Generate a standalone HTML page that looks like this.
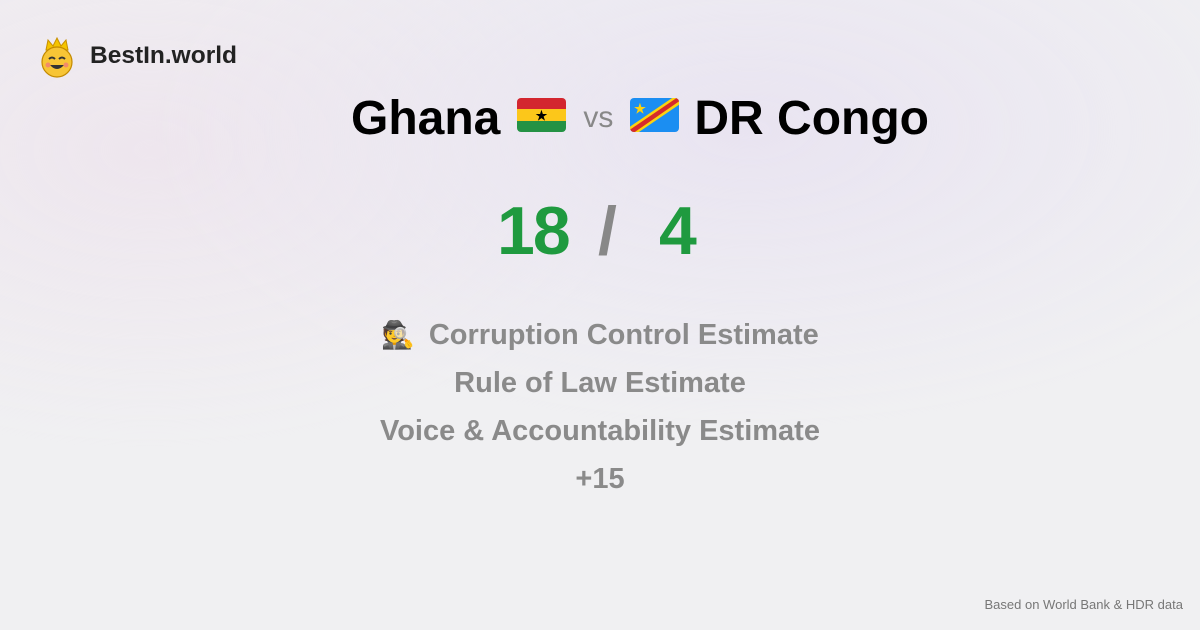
<!DOCTYPE html>
<html><head><meta charset="utf-8"><style>
html,body{margin:0;padding:0}
body{width:1200px;height:630px;overflow:hidden;position:relative;font-family:"Liberation Sans",sans-serif;
background:radial-gradient(ellipse 600px 300px at 750px 130px,#e9e4f1 0%,rgba(233,228,241,0) 100%),radial-gradient(ellipse 500px 300px at 150px 150px,#eee6ee 0%,rgba(238,230,238,0) 100%),#f0f0f2;}
.abs{position:absolute}
.brand{left:90px;top:42px;font-size:24.5px;font-weight:bold;color:#222}
.title{left:40px;width:1200px;top:88px;height:60px;display:flex;align-items:center;justify-content:center;font-weight:bold;font-size:48px;color:#000}
.flag{width:49px;height:34px;border-radius:4px;overflow:hidden;display:block;position:relative;margin-top:-6px}
.flag svg{display:block}
.vs{font-size:30px;color:#888;font-weight:normal;margin:0 17px}
.score{top:192px;font-size:68px;font-weight:bold;color:#1f9a3f;letter-spacing:-2px}
.line{left:0;width:1200px;text-align:center;font-size:29px;font-weight:bold;color:#8a8a8a}
.foot{right:17px;top:597px;font-size:13px;color:#777}
</style></head><body>
<div class="abs" style="left:38px;top:36px;width:38px;height:42px">
<svg width="38" height="42" viewBox="0 0 38 42"><path d="M8 14 L10 4 L15 10 L19 2 L23 10 L28 4 L30 14 Z" fill="#f5c400" stroke="#c89000" stroke-width="1"/><circle cx="19" cy="26" r="15" fill="#f7c536" stroke="#c38a00" stroke-width="1.2"/><path d="M11 23 q3-3 6 0 M21 23 q3-3 6 0" stroke="#333" stroke-width="2" fill="none"/><path d="M12 29 q7 8 14 0 Z" fill="#333"/><circle cx="10" cy="29" r="2.5" fill="#f28b6a"/><circle cx="28" cy="29" r="2.5" fill="#f28b6a"/></svg></div>
<div class="abs brand">BestIn.world</div>
<div class="abs title">
<span>Ghana</span>
<span class="flag" style="margin-left:17px"><svg width="49" height="34"><rect width="49" height="12" fill="#d3262f"/><rect y="11" width="49" height="12" fill="#fcc71a"/><rect y="23" width="49" height="11" fill="#249244"/><text x="24.5" y="22" font-size="13" text-anchor="middle" fill="#000">★</text></svg></span>
<span class="vs">vs</span>
<span class="flag"><svg width="49" height="34"><rect width="49" height="34" fill="#1b8ef2"/><path d="M-2 30 L45 -2 L53 4 L6 36 Z" fill="#fbd20f"/><path d="M-2 33 L48 -1 L51 2 L2 36 Z" fill="#d62b2b"/><text x="10" y="15" font-size="13" text-anchor="middle" fill="#fbd20f">★</text></svg></span>
<span style="margin-left:15px">DR Congo</span>
</div>
<div class="abs score" style="left:497px">18</div>
<div class="abs score" style="left:598px;color:#888">/</div>
<div class="abs score" style="left:659px">4</div>
<div class="abs line" style="top:319px"><span style="font-size:27px;margin-right:14px">🕵️</span>Corruption Control Estimate</div>
<div class="abs line" style="top:367px">Rule of Law Estimate</div>
<div class="abs line" style="top:415px">Voice &amp; Accountability Estimate</div>
<div class="abs line" style="top:463px">+15</div>
<div class="abs foot">Based on World Bank &amp; HDR data</div>
</body></html>
